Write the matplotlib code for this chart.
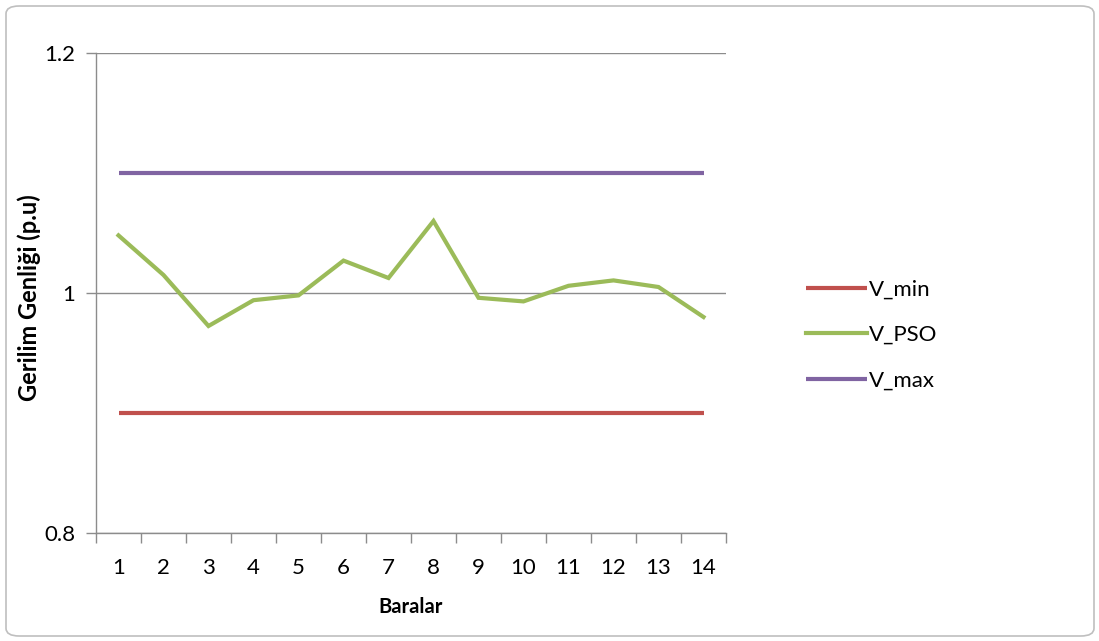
import matplotlib
matplotlib.use("Agg")
import matplotlib.pyplot as plt
from matplotlib.patches import FancyBboxPatch
from matplotlib.ticker import FixedLocator, NullFormatter

plt.rcParams["font.family"] = ["Lato", "DejaVu Sans"]

# ── Data ──
buses = list(range(1, 15))
v_min = [0.9] * 14
v_max = [1.1] * 14
v_pso = [1.048, 1.015, 0.9725, 0.994, 0.998, 1.027, 1.0125,
         1.060, 0.996, 0.993, 1.006, 1.0105, 1.005, 0.980]
y_ticks = [0.8, 1.0, 1.2]
y_labels = ["0.8", "1", "1.2"]

RED = "#C0504D"
GREEN = "#9BBB59"
PURPLE = "#8064A2"
GRID = "#8C8C8C"

fig = plt.figure(figsize=(10.99, 6.41), dpi=100)
W, H = 1099, 641

# outer chart border
border = FancyBboxPatch((6 / W, 5 / H), 1088 / W, 630 / H,
                        boxstyle="round,pad=0,rounding_size=0.012",
                        transform=fig.transFigure, facecolor="white",
                        edgecolor="#BFBFBF", linewidth=1.2, zorder=-10)
fig.patches.append(border)

ax = fig.add_axes([96 / W, 1 - 533 / H, 630 / W, 480 / H])
ax.set_facecolor("none")
ax.set_zorder(2)

ax.plot(buses, v_min, color=RED, lw=3, label="V_min", solid_capstyle="butt")
ax.plot(buses, v_pso, color=GREEN, lw=3, label="V_PSO", solid_joinstyle="miter")
ax.plot(buses, v_max, color=PURPLE, lw=3, label="V_max", solid_capstyle="butt")

ax.set_xlim(0.5, 14.5)
ax.set_ylim(0.8, 1.2)
ax.set_yticks(y_ticks)
ax.set_yticklabels(y_labels)
ax.yaxis.grid(True, color=GRID, lw=1)
ax.set_axisbelow(True)

ax.set_xticks(buses)
ax.set_xticklabels([str(b) for b in buses])
ax.tick_params(axis="x", which="major", length=0, pad=18, labelsize=16)
ax.xaxis.set_minor_locator(FixedLocator([b + 0.5 for b in range(0, 15)]))
ax.xaxis.set_minor_formatter(NullFormatter())
ax.tick_params(axis="x", which="minor", length=7, color=GRID, width=1)
ax.tick_params(axis="y", length=7, color=GRID, width=1, labelsize=16, pad=8)

for side in ["top", "right"]:
    ax.spines[side].set_visible(False)
for side in ["left", "bottom"]:
    ax.spines[side].set_color(GRID)
    ax.spines[side].set_linewidth(1)

ax.set_xlabel("Baralar", fontsize=14.5, fontweight="bold", labelpad=14)
ax.set_ylabel("Gerilim Genliği (p.u)", fontsize=17, fontweight="bold")
ax.yaxis.set_label_coords(-0.088, 0.49)

leg = fig.legend(loc="center left", bbox_to_anchor=(786 / W, 1 - 335 / H),
                 frameon=False, fontsize=16, handlelength=2.75, handletextpad=0.1,
                 labelspacing=1.15)

fig.savefig("out.png", dpi=100)
